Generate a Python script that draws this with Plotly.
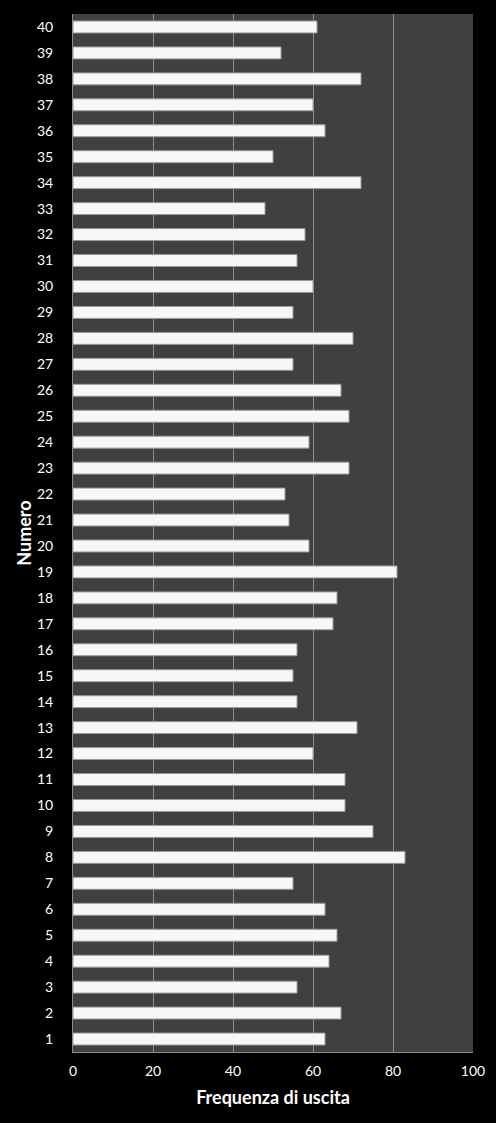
import plotly.graph_objects as go

# numbers drawn (1..40) and how often each one came out
numeri = [str(n) for n in range(1, 41)]
frequenze = [63, 67, 56, 64, 66, 63, 55, 83, 75, 68,
             68, 60, 71, 56, 55, 56, 65, 66, 81, 59,
             54, 53, 69, 59, 69, 67, 55, 70, 55, 60,
             56, 58, 48, 72, 50, 63, 60, 72, 52, 61]

x_ticks = [0, 20, 40, 60, 80, 100]

FONT = "Lato, 'Open Sans', sans-serif"

fig = go.Figure()
fig.add_trace(go.Bar(
    x=frequenze,
    y=numeri,
    orientation="h",
    marker=dict(color="#f7f7f7", line=dict(color="#9a9a9a", width=1)),
    hoverinfo="x+y",
))

fig.update_layout(
    width=496,
    height=1123,
    margin=dict(l=73, r=23, t=14, b=71),
    paper_bgcolor="black",
    plot_bgcolor="#404040",
    bargap=0.54,
    showlegend=False,
    font=dict(family=FONT, color="white", size=14),
    xaxis=dict(
        range=[0, 100],
        tickvals=x_ticks,
        showgrid=True,
        gridcolor="#8c8c8c",
        gridwidth=1,
        showline=True,
        linecolor="#8c8c8c",
        zeroline=False,
        ticks="outside",
        ticklen=6,
        tickcolor="black",
        tickfont=dict(size=14, color="white"),
        title=dict(text="<b>Frequenza di uscita</b>", font=dict(size=18, color="white"), standoff=13),
    ),
    yaxis=dict(
        type="category",
        showgrid=False,
        showline=True,
        linecolor="#8c8c8c",
        ticks="",
        ticklabelstandoff=16,
        tickfont=dict(size=14, color="white"),
        title=dict(text="<b>Numero</b>", font=dict(size=18, color="white"), standoff=0),
    ),
)

# drop the page margin so the figure fills the window exactly
fig.write_html("out.html", config={"displayModeBar": False},
               post_script="document.body.style.margin='0';")
